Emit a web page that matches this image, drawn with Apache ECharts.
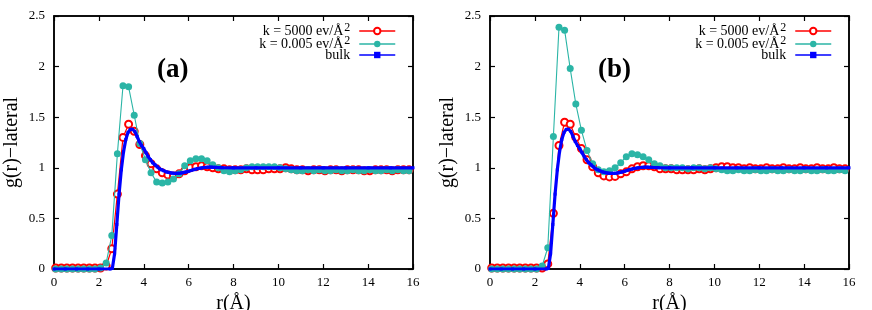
<!DOCTYPE html>
<html><head><meta charset="utf-8">
<script src="https://cdn.jsdelivr.net/npm/echarts@6/dist/echarts.min.js"></script>
<style>html,body{margin:0;padding:0;background:#fff}#c{width:872px;height:310px}</style>
</head><body><div id="c"></div>
<script>
// r values (Å) of the sampled series
const R = [0.075,0.325,0.575,0.825,1.075,1.325,1.575,1.825,2.075,2.325,
  2.575,2.825,3.075,3.325,3.575,3.825,4.075,4.325,4.575,4.825,
  5.075,5.325,5.575,5.825,6.075,6.325,6.575,6.825,7.075,7.325,
  7.575,7.825,8.075,8.325,8.575,8.825,9.075,9.325,9.575,9.825,
  10.075,10.325,10.575,10.825,11.075,11.325,11.575,11.825,12.075,12.325,
  12.575,12.825,13.075,13.325,13.575,13.825,14.075,14.325,14.575,14.825,
  15.075,15.325,15.575,15.825];
// panel (a)
const redA = [0.01,0.01,0.01,0.01,0.01,0.01,0.01,0.01,0.01,0.03,
  0.20,0.74,1.30,1.43,1.36,1.23,1.12,1.04,0.99,0.95,
  0.93,0.92,0.94,0.97,1.00,1.01,1.02,1.01,1.00,0.99,
  0.99,0.98,0.98,0.98,0.99,0.98,0.98,0.98,0.99,0.99,
  0.99,1.00,0.99,0.98,0.98,0.97,0.98,0.98,0.97,0.98,
  0.98,0.97,0.98,0.98,0.98,0.97,0.97,0.98,0.98,0.98,
  0.97,0.98,0.98,0.98];
const tealA = [0,0,0,0,0,0,0,0,0.01,0.06,
  0.33,1.14,1.81,1.80,1.52,1.24,1.08,0.95,0.86,0.85,
  0.86,0.89,0.94,1.02,1.07,1.09,1.09,1.07,1.03,1.00,
  0.97,0.96,0.97,0.98,1.00,1.01,1.01,1.01,1.01,1.01,
  1.00,0.99,0.98,0.97,0.97,0.98,0.97,0.98,0.97,0.97,
  0.98,0.97,0.97,0.98,0.97,0.97,0.98,0.97,0.97,0.98,
  0.97,0.98,0.97,0.97];
// panel (b)
const redB = [0.01,0.01,0.01,0.01,0.01,0.01,0.01,0.01,0.01,0.01,
  0.05,0.55,1.22,1.45,1.43,1.30,1.19,1.08,1.01,0.95,
  0.92,0.91,0.915,0.94,0.96,0.99,1.01,1.02,1.02,1.01,
  0.99,0.99,0.99,0.98,0.98,0.98,0.98,0.99,0.98,0.99,
  1.00,1.01,1.01,1.00,1.00,0.99,1.00,0.99,0.99,1.00,
  0.99,0.99,1.00,0.99,0.99,1.00,0.99,0.99,1.00,0.99,
  0.99,1.00,0.99,0.99];
const tealB = [0,0,0,0,0,0,0,0,0,0.03,
  0.21,1.31,2.39,2.36,1.98,1.63,1.37,1.17,1.04,0.98,
  0.96,0.97,1.00,1.05,1.11,1.14,1.13,1.11,1.08,1.04,
  1.02,1.00,1.00,1.00,1.00,0.99,1.00,1.00,0.99,1.00,
  0.99,0.98,0.97,0.97,0.98,0.97,0.97,0.98,0.97,0.97,
  0.98,0.97,0.97,0.98,0.97,0.97,0.98,0.97,0.97,0.98,
  0.97,0.97,0.98,0.97];
// bulk (same reference curve in both panels)
const RBULK = [0,0.5,1,1.5,2,2.5,2.6,2.7,2.8,2.9,3.0,3.1,3.2,3.3,3.4,3.5,3.6,3.7,3.8,3.9,
  4.0,4.1,4.2,4.3,4.4,4.5,4.6,4.7,4.8,4.9,5.0,5.1,5.2,5.3,5.4,5.5,5.6,5.7,5.8,5.9,
  6.0,6.1,6.2,6.3,6.4,6.5,6.6,6.7,6.8,6.9,7.0,7.1,7.2,7.3,7.4,7.5,
  8,9,10,11,12,13,14,15,16];
const BULK = [0,0,0,0,0,0,0.005,0.15,0.44,0.74,0.98,1.16,1.28,1.35,1.38,1.38,1.36,1.31,1.26,1.22,
  1.19,1.15,1.11,1.08,1.05,1.03,1.01,0.99,0.98,0.97,0.96,0.955,0.95,0.947,0.945,0.945,0.946,0.95,0.955,0.96,
  0.966,0.973,0.98,0.986,0.992,0.996,1.0,1.003,1.005,1.006,1.006,1.005,1.004,1.003,1.002,1.001,
  1.0,1.0,1.0,1.0,1.0,1.0,1.0,1.0,1.0];
const NAMES = ['k = 5000 ev/Å^2', 'k = 0.005 ev/Å^2', 'bulk'];
const PANELS = ['(a)', '(b)'];

const FONT = '"Liberation Serif", "DejaVu Serif", serif';
const RED = '#ff0000', TEAL = '#2bb5a6', BLUE = '#0000ff';
const chart = echarts.init(document.getElementById('c'));

const gridLeft = [54, 490];
const grids = gridLeft.map(l => ({left: l, top: 16, width: 359, height: 253,
  outerBoundsMode: 'none', containLabel: false,
  show: true, borderColor: '#000', borderWidth: 1.5, backgroundColor: 'transparent'}));

const xAxes = [], yAxes = [];
[0, 1].forEach(g => {
  const baseX = {gridIndex: g, type: 'value', min: 0, max: 16, interval: 2,
    splitLine: {show: false},
    axisLine: {show: true, onZero: false, lineStyle: {color: '#000', width: 1.5}},
    axisTick: {show: true, inside: true, length: 5, lineStyle: {color: '#000', width: 1.2}}};
  xAxes.push(Object.assign({}, baseX, {position: 'bottom',
    axisLabel: {color: '#000', fontFamily: FONT, fontSize: 13, margin: 7},
    name: 'r(Å)', nameLocation: 'middle', nameGap: 21,
    nameTextStyle: {color: '#000', fontFamily: FONT, fontSize: 20}}));
  xAxes.push(Object.assign({}, baseX, {position: 'top', axisLabel: {show: false}}));
  const baseY = {gridIndex: g, type: 'value', min: 0, max: 2.5, interval: 0.5,
    splitLine: {show: false},
    axisLine: {show: true, onZero: false, lineStyle: {color: '#000', width: 1.5}},
    axisTick: {show: true, inside: true, length: 5, lineStyle: {color: '#000', width: 1.2}}};
  yAxes.push(Object.assign({}, baseY, {position: 'left',
    axisLabel: {color: '#000', fontFamily: FONT, fontSize: 13, margin: 9},
    name: 'g(r)\u2212lateral', nameLocation: 'middle', nameGap: 32,
    nameTextStyle: {color: '#000', fontFamily: FONT, fontSize: 20}}));
  yAxes.push(Object.assign({}, baseY, {position: 'right', axisLabel: {show: false}}));
});

const series = [];
const sets = [[redA, tealA], [redB, tealB]];
[0, 1].forEach(g => {
  const xi = g * 2, yi = g * 2;
  series.push({name: NAMES[0], type: 'line', xAxisIndex: xi, yAxisIndex: yi,
    data: R.map((r, i) => [r, sets[g][0][i]]),
    symbol: 'emptyCircle', symbolSize: 7, showAllSymbol: true,
    lineStyle: {color: RED, width: 1.2}, itemStyle: {color: RED, borderWidth: 1.2},
    z: 3, animation: false});
  series.push({name: NAMES[1], type: 'line', xAxisIndex: xi, yAxisIndex: yi,
    data: R.map((r, i) => [r, sets[g][1][i]]),
    symbol: 'circle', symbolSize: 7, showAllSymbol: true,
    lineStyle: {color: TEAL, width: 1.1}, itemStyle: {color: TEAL},
    z: 4, animation: false});
  series.push({name: NAMES[2], type: 'line', xAxisIndex: xi, yAxisIndex: yi,
    data: RBULK.map((r, i) => [r, BULK[i]]),
    symbol: 'rect', symbolSize: 3, showAllSymbol: true,
    lineStyle: {color: BLUE, width: 3.2}, itemStyle: {color: BLUE},
    z: 5, animation: false});
});

const legendFmt = n => n.indexOf('^2') >= 0 ? '{t|' + n.replace('^2', '') + '}{s|2}' : '{t|' + n + '}';
const legendRich = {
  t: {fontFamily: FONT, fontSize: 14, lineHeight: 13, color: '#000'},
  s: {fontFamily: FONT, fontSize: 12, lineHeight: 7, color: '#000', padding: [0, 0, 6, 1]}};
const legends = [476, 40].map(rt => ({orient: 'vertical', right: rt, top: 22, align: 'right',
  itemWidth: 36, itemHeight: 8, itemGap: -5, padding: 0, data: NAMES,
  formatter: legendFmt, textStyle: {rich: legendRich, padding: [0, 4, 0, 0]},
  lineStyle: {width: 1.5}, selectedMode: false}));

chart.setOption({
  backgroundColor: '#fff',
  animation: false,
  grid: grids, xAxis: xAxes, yAxis: yAxes, series: series, legend: legends,
  graphic: [
    {type: 'text', left: 157, top: 57, style: {text: PANELS[0], fill: '#000', font: 'bold 27px ' + FONT}},
    {type: 'text', left: 598, top: 57, style: {text: PANELS[1], fill: '#000', font: 'bold 27px ' + FONT}}
  ]
});
</script></body></html>
